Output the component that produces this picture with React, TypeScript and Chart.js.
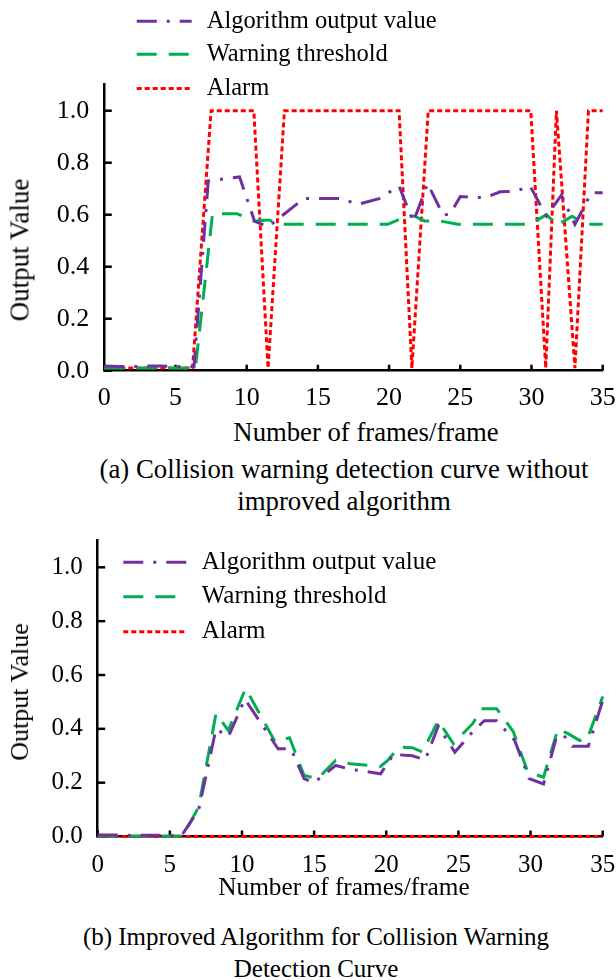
import React, { useEffect, useRef } from "react";
import { Chart, registerables } from "chart.js";

Chart.register(...registerables);

const SERIF = '"Liberation Serif", "Times New Roman", Times, serif';

const LABEL_ALGO = "Algorithm output value";
const LABEL_THRESH = "Warning threshold";
const LABEL_ALARM = "Alarm";

const COLOR_ALGO = "#7030A0";
const COLOR_THRESH = "#00B050";
const COLOR_ALARM = "#FF0000";

// ---------- Chart (a): without improved algorithm ----------
const algoFramesA = [0, 1, 2, 3, 4, 5, 6.3, 7.3, 9.5, 10.55, 11.5, 14.0, 16.6, 17.8, 19.3, 20.7, 21.7, 22.7, 23.8, 24.3, 25.0, 26.7, 27.8, 28.9, 29.9, 31.05, 32.1, 33.05, 34.2, 35];
const algoValuesA = [0.018, 0.016, 0.016, 0.018, 0.018, 0.016, 0.015, 0.73, 0.745, 0.575, 0.553, 0.662, 0.662, 0.64, 0.662, 0.71, 0.572, 0.72, 0.598, 0.604, 0.67, 0.665, 0.688, 0.69, 0.71, 0.595, 0.675, 0.563, 0.684, 0.684];

const threshFramesA = [0, 1, 2, 3, 4, 5, 6.4, 7.6, 9.3, 10.55, 11.5, 12.5, 19.9, 21.1, 21.75, 22.5, 23.6, 24.8, 29.9, 31.05, 31.8, 32.85, 33.75, 35];
const threshValuesA = [0.01, 0.01, 0.01, 0.01, 0.01, 0.01, 0.01, 0.604, 0.604, 0.575, 0.58, 0.563, 0.563, 0.59, 0.595, 0.576, 0.576, 0.563, 0.563, 0.6, 0.56, 0.594, 0.563, 0.563];

const alarmFramesA = [0, 6.2, 7.5, 10.5, 11.5, 12.65, 20.7, 21.6, 22.75, 29.95, 31.0, 31.75, 33.05, 34.0, 35];
const alarmValuesA = [0.01, 0.01, 1, 1, 0.01, 1, 1, 0.01, 1, 1, 0.01, 1, 0.01, 1, 1];

// ---------- Chart (b): improved algorithm ----------
const algoFramesB = [0, 1, 2, 3, 4, 5, 5.8, 7.0, 8.2, 9.05, 10.2, 12.5, 13.4, 14.3, 15.0, 16.5, 17.5, 19.6, 20.5, 21.8, 22.7, 23.6, 24.75, 26.0, 26.8, 27.65, 28.9, 29.9, 30.9, 31.8, 32.3, 32.9, 34.0, 35];
const algoValuesB = [0.006, 0.006, 0.004, 0.005, 0.005, 0.003, 0.002, 0.1, 0.4, 0.37, 0.51, 0.326, 0.326, 0.215, 0.2, 0.264, 0.25, 0.233, 0.305, 0.3, 0.285, 0.41, 0.313, 0.39, 0.43, 0.43, 0.357, 0.215, 0.195, 0.37, 0.376, 0.335, 0.335, 0.505];

const threshFramesB = [0, 1, 2, 3, 4, 5, 5.9, 7.0, 8.2, 9.05, 10.25, 12.3, 13.3, 14.3, 15.25, 16.5, 17.5, 19.6, 20.1, 20.9, 21.8, 22.5, 23.6, 24.65, 26.0, 26.6, 27.65, 28.8, 29.8, 30.9, 31.9, 32.6, 33.4, 33.9, 35];
const threshValuesB = [0.002, 0.002, 0.002, 0.002, 0.002, 0.002, 0.002, 0.11, 0.457, 0.394, 0.55, 0.351, 0.367, 0.227, 0.215, 0.283, 0.27, 0.26, 0.283, 0.332, 0.33, 0.314, 0.43, 0.345, 0.42, 0.475, 0.475, 0.39, 0.24, 0.22, 0.4, 0.382, 0.357, 0.357, 0.52];

const alarmFramesB = [0, 35];
const alarmValuesB = [0, 0];

// axes
const X_MIN = 0;
const X_MAX = 35;
const X_STEP = 5;
const Y_MIN = 0;
const Y_MAX = 1.1;
const Y_STEP = 0.2;
const Y_LAST_TICK = 1.0;

type Series = { label: string; xs: number[]; ys: number[]; color: string; dash: number[]; width: number };

const tickMarksPlugin = {
  id: "tickMarks",
  beforeDatasetsDraw(chart: any, _args: any, opts: any) {
    const { ctx, chartArea, scales } = chart;
    ctx.save();
    ctx.strokeStyle = "#000";
    ctx.lineWidth = opts.width;
    ctx.setLineDash([]);
    scales.x.ticks.forEach((t: any) => {
      const px = scales.x.getPixelForValue(t.value);
      ctx.beginPath();
      ctx.moveTo(px, chartArea.bottom);
      ctx.lineTo(px, chartArea.bottom - opts.xLen);
      ctx.stroke();
    });
    scales.y.ticks.forEach((t: any) => {
      const py = scales.y.getPixelForValue(t.value);
      ctx.beginPath();
      ctx.moveTo(chartArea.left, py);
      ctx.lineTo(chartArea.left + opts.yLen, py);
      ctx.stroke();
    });
    ctx.restore();
  },
};

const legendPlugin = {
  id: "customLegend",
  afterDraw(chart: any, _args: any, opts: any) {
    const { ctx } = chart;
    ctx.save();
    chart.data.datasets.forEach((ds: any, i: number) => {
      const y = opts.rows[i];
      ctx.beginPath();
      ctx.setLineDash(ds.borderDash || []);
      ctx.strokeStyle = ds.borderColor;
      ctx.lineWidth = ds.borderWidth;
      ctx.lineCap = "butt";
      ctx.moveTo(opts.x0, y);
      ctx.lineTo(opts.x1, y);
      ctx.stroke();
      ctx.setLineDash([]);
      ctx.fillStyle = "#000";
      ctx.font = `${opts.fontSize}px ${SERIF}`;
      ctx.textBaseline = "middle";
      ctx.textAlign = "left";
      ctx.fillText(ds.label, opts.textX, y);
    });
    ctx.restore();
  },
};

type PanelProps = {
  top: number;
  height: number;
  series: Series[];
  areaLeft: number;
  areaTop: number;
  areaBottom: number;
  areaRight: number;
  tickFont: number;
  xPad: number;
  yPad: number;
  legend: { x0: number; x1: number; textX: number; rows: number[]; fontSize: number };
};

function ChartPanel(p: PanelProps) {
  const ref = useRef<HTMLCanvasElement | null>(null);
  useEffect(() => {
    if (!ref.current) return;
    const chart = new Chart(ref.current, {
      type: "line",
      data: {
        datasets: p.series.map((s) => ({
          label: s.label,
          data: s.xs.map((x, i) => ({ x, y: s.ys[i] })),
          borderColor: s.color,
          backgroundColor: s.color,
          borderWidth: s.width,
          borderDash: s.dash,
          pointRadius: 0,
          fill: false,
          tension: 0,
          clip: 6,
        })),
      },
      options: {
        responsive: false,
        animation: false,
        devicePixelRatio: 1,
        layout: { padding: { top: p.areaTop, right: 616 - p.areaRight, left: 0, bottom: 0 } },
        plugins: {
          legend: { display: false },
          tooltip: { enabled: false },
          customLegend: p.legend,
          tickMarks: { width: 2.5, xLen: 6, yLen: 7.5 },
        } as any,
        scales: {
          x: {
            type: "linear",
            min: X_MIN,
            max: X_MAX,
            grid: { display: false, drawTicks: false },
            border: { display: true, color: "#000", width: 2.5 },
            ticks: {
              stepSize: X_STEP,
              color: "#000",
              padding: p.xPad,
              maxRotation: 0,
              font: { family: SERIF, size: p.tickFont, lineHeight: 1 },
            },
            afterFit: (scale: any) => {
              scale.height = p.height - p.areaBottom;
              scale.paddingLeft = 0;
              scale.paddingRight = 0;
            },
          },
          y: {
            type: "linear",
            min: Y_MIN,
            max: Y_MAX,
            grid: { display: false, drawTicks: false },
            border: { display: true, color: "#000", width: 2.5 },
            ticks: {
              stepSize: Y_STEP,
              color: "#000",
              padding: p.yPad,
              font: { family: SERIF, size: p.tickFont, lineHeight: 1 },
              callback: (v: any) => Number(v).toFixed(1),
            },
            afterBuildTicks: (scale: any) => {
              scale.ticks = scale.ticks.filter((t: any) => t.value <= Y_LAST_TICK + 1e-6);
            },
            afterFit: (scale: any) => {
              scale.width = p.areaLeft;
              scale.paddingTop = 0;
              scale.paddingBottom = 0;
            },
          },
        },
      } as any,
      plugins: [tickMarksPlugin, legendPlugin],
    });
    return () => chart.destroy();
  }, []);
  return (
    <canvas
      ref={ref}
      width={616}
      height={p.height}
      style={{ position: "absolute", left: 0, top: p.top, width: 616, height: p.height }}
    />
  );
}

function Txt(props: { text: string; cx: number; cy: number; size: number; rotate?: boolean }) {
  return (
    <div
      style={{
        position: "absolute",
        left: props.cx,
        top: props.cy,
        transform: `translate(-50%, -50%)${props.rotate ? " rotate(-90deg)" : ""}`,
        fontFamily: SERIF,
        fontSize: props.size,
        lineHeight: 1,
        whiteSpace: "nowrap",
        color: "#000",
      }}
    >
      {props.text}
    </div>
  );
}

const DASH_ALGO = [20, 10, 3, 10];
const DASH_THRESH = [20, 12];
const DASH_ALARM = [5, 3];

const seriesA: Series[] = [
  { label: LABEL_ALGO, xs: algoFramesA, ys: algoValuesA, color: COLOR_ALGO, dash: DASH_ALGO, width: 3 },
  { label: LABEL_THRESH, xs: threshFramesA, ys: threshValuesA, color: COLOR_THRESH, dash: DASH_THRESH, width: 3 },
  { label: LABEL_ALARM, xs: alarmFramesA, ys: alarmValuesA, color: COLOR_ALARM, dash: DASH_ALARM, width: 3 },
];

const seriesB: Series[] = [
  { label: LABEL_ALGO, xs: algoFramesB, ys: algoValuesB, color: COLOR_ALGO, dash: DASH_ALGO, width: 3 },
  { label: LABEL_THRESH, xs: threshFramesB, ys: threshValuesB, color: COLOR_THRESH, dash: DASH_THRESH, width: 3 },
  { label: LABEL_ALARM, xs: alarmFramesB, ys: alarmValuesB, color: COLOR_ALARM, dash: DASH_ALARM, width: 3 },
];

export default function App() {
  return (
    <div style={{ position: "absolute", left: 0, top: 0, width: 616, height: 980, background: "#fff", overflow: "hidden" }}>
      <ChartPanel
        top={0}
        height={415}
        series={seriesA}
        areaLeft={104.3}
        areaTop={84.7}
        areaBottom={370.7}
        areaRight={602.7}
        tickFont={26}
        xPad={14}
        yPad={15}
        legend={{ x0: 136.7, x1: 191.7, textX: 206.7, rows: [21.2, 54.2, 88.5], fontSize: 24.5 }}
      />
      <Txt text="Output Value" cx={20} cy={250} size={27} rotate />
      <Txt text="Number of frames/frame" cx={366} cy={431.7} size={26.7} />
      <Txt text="(a) Collision warning detection curve without" cx={344} cy={469.3} size={26.8} />
      <Txt text="improved algorithm" cx={344} cy={501} size={26.8} />

      <ChartPanel
        top={520}
        height={380}
        series={seriesB}
        areaLeft={97.7}
        areaTop={20.4}
        areaBottom={316.5}
        areaRight={602.7}
        tickFont={25}
        xPad={16}
        yPad={15}
        legend={{ x0: 123.3, x1: 186.7, textX: 201.7, rows: [42.3, 76.7, 111.7], fontSize: 25 }}
      />
      <Txt text="Output Value" cx={20} cy={692} size={26} rotate />
      <Txt text="Number of frames/frame" cx={344} cy={887.2} size={25.3} />
      <Txt text="(b) Improved Algorithm for Collision Warning" cx={316} cy={936.3} size={25} />
      <Txt text="Detection Curve" cx={316} cy={967.6} size={25} />
    </div>
  );
}
